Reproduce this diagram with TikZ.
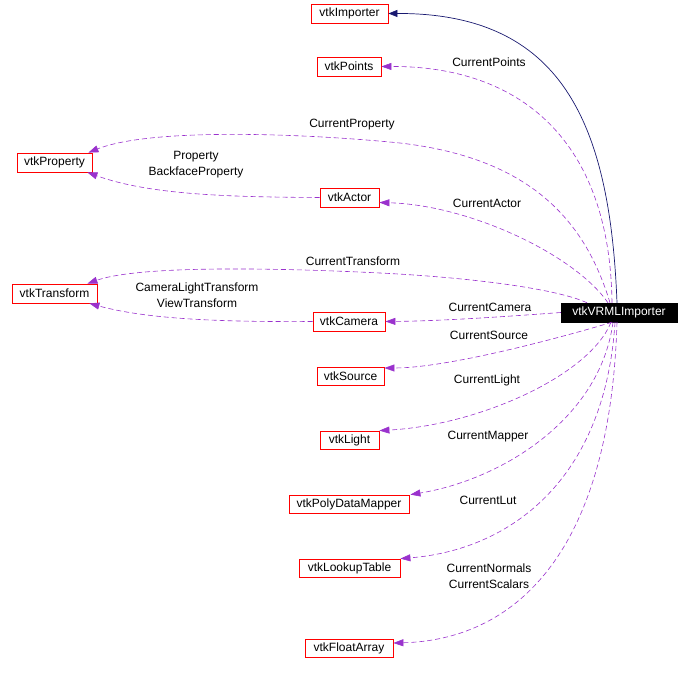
\documentclass[tikz,border=0pt]{standalone}
\usepackage{fontspec}
\setmainfont{Liberation Sans}
\usetikzlibrary{arrows.meta}
\definecolor{edgep}{HTML}{9A32CD}
\definecolor{edgen}{HTML}{191970}
\tikzset{
  cls/.style={draw=red, line width=0.8pt, fill=white, inner xsep=0pt, inner ysep=0pt, minimum height=19pt, font=\fontsize{12}{14}\selectfont},
  main/.style={draw=black, fill=black, text=white, inner xsep=0pt, inner ysep=0pt, minimum height=19pt, minimum width=116pt, font=\fontsize{12}{14}\selectfont},
  lbl/.style={inner sep=0pt, align=center, font=\fontsize{12}{16}\selectfont},
  uses/.style={edgep, line width=0.6pt, dash pattern=on 5pt off 3pt, -{Triangle[length=10pt,width=7pt]}},
  inh/.style={edgen, line width=0.7pt, -{Triangle[length=9pt,width=7pt]}}
}
\begin{document}
\begin{tikzpicture}[x=1pt,y=-1pt]
\useasboundingbox (0,0) rectangle (690,674);
% nodes
\node[main] (vrml) at (619,312.5) {vtkVRMLImporter};
\node[cls, minimum width=77pt] (imp) at (349.5,13.5) {vtkImporter};
\node[cls, minimum width=64pt] (pts) at (349,66.5) {vtkPoints};
\node[cls, minimum width=75pt] (prop) at (54.5,162.5) {vtkProperty};
\node[cls, minimum width=59pt] (act) at (349.5,197.5) {vtkActor};
\node[cls, minimum width=85pt] (tr) at (54.5,293.5) {vtkTransform};
\node[cls, minimum width=72pt] (cam) at (349,321.5) {vtkCamera};
\node[cls, minimum width=67pt, minimum height=18pt] (src) at (350.5,376) {vtkSource};
\node[cls, minimum width=59pt, minimum height=18pt] (lt) at (349.5,440) {vtkLight};
\node[cls, minimum width=120pt, minimum height=18pt] (pdm) at (349,504) {vtkPolyDataMapper};
\node[cls, minimum width=101pt, minimum height=18pt] (lut) at (349.5,568) {vtkLookupTable};
\node[cls, minimum width=88pt, minimum height=18pt] (fa) at (349,648) {vtkFloatArray};
% labels
\node[lbl] (l1) at (489,62) {CurrentPoints};
\node[lbl] (l2) at (352,125) {CurrentProperty};
\node[lbl] (l3) at (196,165) {Property\\BackfaceProperty};
\node[lbl] (l4) at (487,203) {CurrentActor};
\node[lbl] (l5) at (353,261) {CurrentTransform};
\node[lbl] (l6) at (197,295.5) {CameraLightTransform\\ViewTransform};
\node[lbl] (l7) at (490,307) {CurrentCamera};
\node[lbl] (l8) at (489,335) {CurrentSource};
\node[lbl] (l9) at (487,380) {CurrentLight};
\node[lbl] (l10) at (488,437) {CurrentMapper};
\node[lbl] (l11) at (488,500) {CurrentLut};
\node[lbl] (l12) at (489,576) {CurrentNormals\\CurrentScalars};
% edges
\draw[inh] ([xshift=-2pt]vrml.north) .. controls (610,120) and (560,13) .. (imp.east);
\draw[uses] ([xshift=-7pt]vrml.north) .. controls (610,140) and (520,66) .. (pts.east);
\draw[uses] ([xshift=-9pt]vrml.north) .. controls (585,220) and (530,158) .. (400,143)
   .. controls (300,133) and (150,128) .. ([xshift=-4pt]prop.north east);
\draw[uses] (act.west) .. controls (230,197) and (150,195) .. ([xshift=-5pt]prop.south east);
\draw[uses] ([xshift=-11pt]vrml.north) .. controls (575,255) and (470,205) .. ([yshift=-5pt]act.east);
\draw[uses] ([xshift=-32pt]vrml.north) .. controls (560,290) and (480,278) .. (380,273)
   .. controls (280,268) and (140,265) .. ([xshift=-10pt]tr.north east);
\draw[uses] (cam.west) .. controls (230,322) and (150,320) .. ([xshift=-8pt]tr.south east);
\draw[uses] (vrml.west) .. controls (500,317) and (440,321) .. (cam.east);
\draw[uses] ([xshift=-7pt]vrml.south) .. controls (570,335) and (450,368) .. ([yshift=8pt]src.east);
\draw[uses] ([xshift=-8pt]vrml.south) .. controls (590,375) and (480,425) .. (lt.north east);
\draw[uses] ([xshift=-6pt]vrml.south) .. controls (600,420) and (500,480) .. ([xshift=1pt]pdm.north east);
\draw[uses] ([xshift=-4pt]vrml.south) .. controls (605,480) and (510,550) .. (lut.north east);
\draw[uses] ([xshift=-2pt]vrml.south) .. controls (610,560) and (510,640) .. ([yshift=5pt]fa.east);
\end{tikzpicture}
\end{document}
